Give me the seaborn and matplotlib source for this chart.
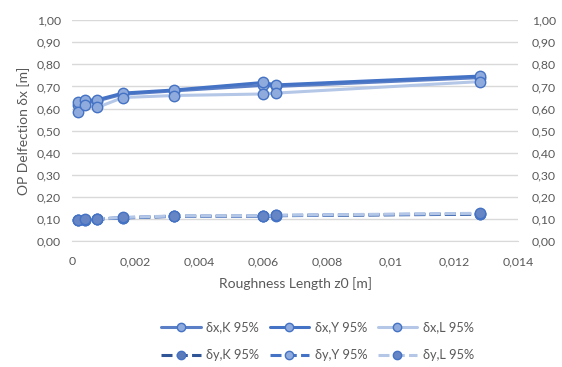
import matplotlib
matplotlib.use("Agg")
import matplotlib.pyplot as plt
import seaborn as sns
import pandas as pd
from matplotlib.lines import Line2D

z0 = [0.0002, 0.0004, 0.0008, 0.0016, 0.0032, 0.0060, 0.0064, 0.0128]

dx_K = [0.615, 0.625, 0.635, 0.665, 0.680, 0.705, 0.700, 0.740]
dx_Y = [0.630, 0.637, 0.640, 0.670, 0.684, 0.718, 0.707, 0.747]
dx_L = [0.585, 0.615, 0.605, 0.650, 0.659, 0.666, 0.670, 0.722]
dy_K = [0.095, 0.097, 0.100, 0.105, 0.112, 0.112, 0.115, 0.122]
dy_Y = [0.094, 0.096, 0.100, 0.106, 0.113, 0.113, 0.116, 0.124]
dy_L = [0.096, 0.098, 0.101, 0.107, 0.114, 0.114, 0.117, 0.126]

labels = ["δx,K 95%", "δx,Y 95%", "δx,L 95%", "δy,K 95%", "δy,Y 95%", "δy,L 95%"]
yticks = [0.0, 0.1, 0.2, 0.3, 0.4, 0.5, 0.6, 0.7, 0.8, 0.9, 1.0]
xticks = [0, 0.002, 0.004, 0.006, 0.008, 0.01, 0.012, 0.014]
xticklabels = ["0", "0,002", "0,004", "0,006", "0,008", "0,01", "0,012", "0,014"]

sns.set_style("white")
plt.rcParams["font.family"] = ["Lato", "DejaVu Sans"]
txt = "#595959"
grid = "#D9D9D9"

fig = plt.figure(figsize=(5.62, 3.67), dpi=100)
ax = fig.add_axes([0.128, 0.343, 0.794, 0.602])

styles = [
    dict(color="#5B7FC7", ls="-", mfc="#8FAADC"),
    dict(color="#4472C4", ls="-", mfc="#8FAADC"),
    dict(color="#B4C7E7", ls="-", mfc="#8FAADC"),
    dict(color="#2F5597", ls=(0, (3.6, 1.4)), mfc="#5B7BB8"),
    dict(color="#4472C4", ls=(0, (3.6, 1.4)), mfc="#8FAADC"),
    dict(color="#B4C7E7", ls=(0, (3.6, 1.4)), mfc="#6585C4"),
]
series = [dx_K, dx_Y, dx_L, dy_K, dy_Y, dy_L]

handles = []
for lab, vals, st in zip(labels, series, styles):
    df = pd.DataFrame({"z0": z0, "v": vals})
    sns.lineplot(data=df, x="z0", y="v", ax=ax, color=st["color"], linestyle=st["ls"],
                 linewidth=2.2, marker="o", markersize=7.5, markerfacecolor=st["mfc"],
                 markeredgecolor="#4472C4", markeredgewidth=1.0, legend=False)
    handles.append(Line2D([], [], color=st["color"], linestyle=st["ls"], linewidth=2.2,
                          marker="o", markersize=6, markerfacecolor=st["mfc"],
                          markeredgecolor="#4472C4", markeredgewidth=1.0, label=lab))

ax.set_xlim(0, 0.014)
ax.set_ylim(0, 1.0)
ax.set_xticks(xticks)
ax.set_xticklabels(xticklabels)
ax.set_yticks(yticks)
ax.set_yticklabels([f"{v:.2f}".replace(".", ",") for v in yticks])
ax.grid(axis="y", color=grid, linewidth=1.0)
ax.set_axisbelow(True)
for s in ["top", "right", "left"]:
    ax.spines[s].set_visible(False)
ax.spines["bottom"].set_color(grid)
ax.tick_params(axis="x", colors=txt, labelsize=8.8, length=3, color=grid, direction="out", pad=8)
ax.tick_params(axis="y", colors=txt, labelsize=8.8, length=0, pad=8)
for t in ax.get_xticklabels() + ax.get_yticklabels():
    t.set_color(txt)
ax.set_xlabel("Roughness Length z0 [m]", color=txt, fontsize=10, labelpad=7)
ax.set_ylabel("OP Delfection δx [m]", color=txt, fontsize=10, labelpad=5)

ax2 = ax.twinx()
ax2.set_ylim(0, 1.0)
ax2.set_yticks(yticks)
ax2.set_yticklabels([f"{v:.2f}".replace(".", ",") for v in yticks])
for s in ["top", "right", "left", "bottom"]:
    ax2.spines[s].set_visible(False)
ax2.tick_params(axis="y", colors=txt, labelsize=8.8, length=0, pad=10)

order = [0, 3, 1, 4, 2, 5]
leg = fig.legend([handles[i] for i in order], [labels[i] for i in order],
                 loc="center", bbox_to_anchor=(0.565, 0.07), ncol=3, frameon=False,
                 fontsize=9.2, handlelength=3.1, columnspacing=0.8, handletextpad=0.45,
                 labelspacing=1.25)
for t in leg.get_texts():
    t.set_color(txt)

fig.savefig("out.png", dpi=100)
